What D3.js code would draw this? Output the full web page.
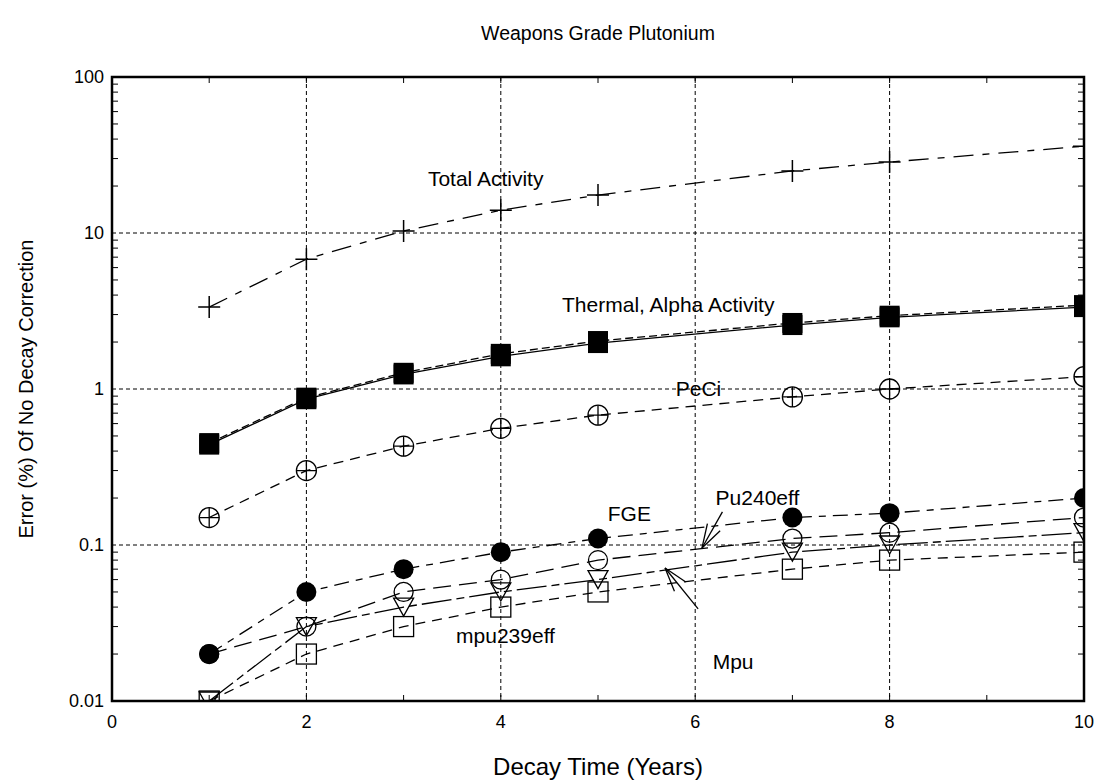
<!DOCTYPE html>
<html lang="en">
<head>
<meta charset="UTF-8">
<title>Weapons Grade Plutonium</title>
<style>
  body { margin: 0; background: #fff; }
  svg { font-family: "Liberation Sans", Arial, Helvetica, sans-serif; }
</style>
</head>
<body>
<div id="viz"></div>
<script src="https://d3js.org/d3.v7.min.js"></script>
<script>
  // decay times (years) and % error for each quantity
  const years = [1, 2, 3, 4, 5, 7, 8, 10]
  const totalActivity = [3.35, 6.8, 10.3, 14, 17.5, 25, 28.5, 36]
  const alphaActivity = [0.45, 0.88, 1.27, 1.68, 2.03, 2.65, 2.95, 3.45]
  const thermalActivity = [0.44, 0.86, 1.24, 1.62, 1.97, 2.57, 2.88, 3.35]
  const peci = [0.15, 0.30, 0.43, 0.56, 0.68, 0.89, 1.0, 1.2]
  const fge = [0.02, 0.05, 0.07, 0.09, 0.11, 0.15, 0.16, 0.20]
  const pu240eff = [0.02, 0.03, 0.05, 0.06, 0.08, 0.11, 0.12, 0.15]
  const mpu = [0.01, 0.03, 0.04, 0.05, 0.06, 0.09, 0.10, 0.12]
  const mpu239eff = [0.01, 0.02, 0.03, 0.04, 0.05, 0.07, 0.08, 0.09]

  const xTicks = [0, 2, 4, 6, 8, 10]
  const yTicks = [0.01, 0.1, 1, 10, 100]
  const yTickLabels = ["0.01", "0.1", "1", "10", "100"]

  const W = 1101, H = 781
  const margin = {top: 77, right: 17, bottom: 80, left: 112}
  const width = W - margin.left - margin.right
  const height = H - margin.top - margin.bottom

  const x = d3.scaleLinear().domain([0, 10]).range([0, width])
  const y = d3.scaleLog().domain([0.01, 100]).range([height, 0])

  const svg = d3.select("#viz").append("svg")
    .attr("width", W).attr("height", H)

  svg.append("defs").append("clipPath").attr("id", "clip")
    .append("rect").attr("width", width).attr("height", height)

  const g = svg.append("g")
    .attr("transform", "translate(" + margin.left + "," + margin.top + ")")

  // grid
  g.selectAll("line.gx").data([2, 4, 6, 8]).enter().append("line")
    .attr("x1", d => x(d)).attr("x2", d => x(d))
    .attr("y1", 0).attr("y2", height)
    .attr("stroke", "#000").attr("stroke-width", 1).attr("stroke-dasharray", "4,3")
  g.selectAll("line.gy").data([0.1, 1, 10]).enter().append("line")
    .attr("y1", d => y(d)).attr("y2", d => y(d))
    .attr("x1", 0).attr("x2", width)
    .attr("stroke", "#000").attr("stroke-width", 1).attr("stroke-dasharray", "4,3")

  // minor ticks
  const tickLen = 6
  d3.range(1, 10).forEach(v => {
    g.append("line").attr("x1", x(v)).attr("x2", x(v)).attr("y1", height).attr("y2", height - tickLen).attr("stroke", "#000")
    g.append("line").attr("x1", x(v)).attr("x2", x(v)).attr("y1", 0).attr("y2", tickLen).attr("stroke", "#000")
  })
  const yMinor = []
  ;[0.01, 0.1, 1, 10].forEach(d => { for (let k = 2; k <= 9; k++) yMinor.push(d * k) })
  yMinor.forEach(v => {
    g.append("line").attr("x1", 0).attr("x2", tickLen).attr("y1", y(v)).attr("y2", y(v)).attr("stroke", "#000")
    g.append("line").attr("x1", width).attr("x2", width - tickLen).attr("y1", y(v)).attr("y2", y(v)).attr("stroke", "#000")
  })

  // tick labels
  g.selectAll("text.xt").data(xTicks).enter().append("text")
    .attr("x", d => x(d)).attr("y", height + 27)
    .attr("text-anchor", "middle").attr("font-size", 18).text(d => d)
  g.selectAll("text.yt").data(yTicks).enter().append("text")
    .attr("x", -8).attr("y", d => y(d) + 6)
    .attr("text-anchor", "end").attr("font-size", 18).text((d, i) => yTickLabels[i])

  // series
  const series = [
    {values: totalActivity, dash: "20,9,7,9", marker: "plus"},
    {values: alphaActivity, dash: "8,4", marker: "fsquare"},
    {values: thermalActivity, dash: null, marker: "fsquare"},
    {values: peci, dash: "10,7", marker: "cplus"},
    {values: fge, dash: "15,7,7,7", marker: "fcircle"},
    {values: pu240eff, dash: "18,8", marker: "circle"},
    {values: mpu, dash: "30,5,8,5", marker: "tri"},
    {values: mpu239eff, dash: "10,7", marker: "square"}
  ]

  const plot = g.append("g").attr("clip-path", "url(#clip)")
  const line = d3.line().x(d => x(d[0])).y(d => y(d[1]))

  series.forEach(s => {
    plot.append("path")
      .datum(years.map((yr, i) => [yr, s.values[i]]))
      .attr("d", line)
      .attr("fill", "none").attr("stroke", "#000").attr("stroke-width", 1.3)
      .attr("stroke-dasharray", s.dash)
  })

  function drawMarker(sel, type) {
    if (type === "plus") {
      sel.append("path").attr("d", "M-11,0H11M0,-11V11").attr("stroke", "#000").attr("stroke-width", 1.5)
    } else if (type === "fsquare") {
      sel.append("rect").attr("x", -10).attr("y", -10).attr("width", 20).attr("height", 20).attr("fill", "#000")
    } else if (type === "square") {
      sel.append("rect").attr("x", -10).attr("y", -10).attr("width", 20).attr("height", 20)
        .attr("fill", "none").attr("stroke", "#000").attr("stroke-width", 1.3)
    } else if (type === "fcircle") {
      sel.append("circle").attr("r", 10).attr("fill", "#000")
    } else if (type === "circle") {
      sel.append("circle").attr("r", 9.5).attr("fill", "none").attr("stroke", "#000").attr("stroke-width", 1.3)
    } else if (type === "cplus") {
      sel.append("circle").attr("r", 10).attr("fill", "none").attr("stroke", "#000").attr("stroke-width", 1.3)
      sel.append("path").attr("d", "M-10,0H10M0,-10V10").attr("stroke", "#000").attr("stroke-width", 1.3)
    } else if (type === "tri") {
      sel.append("path").attr("d", "M-10,-9L10,-9L0,9Z").attr("fill", "none").attr("stroke", "#000").attr("stroke-width", 1.3)
    }
  }

  series.forEach(s => {
    years.forEach((yr, i) => {
      const m = plot.append("g").attr("transform", "translate(" + x(yr) + "," + y(s.values[i]) + ")")
      drawMarker(m, s.marker)
    })
  })

  // annotations (data coordinates)
  const labels = [
    {text: "Total Activity", at: [3.25, 20]},
    {text: "Thermal, Alpha Activity", at: [4.63, 3.1]},
    {text: "PeCi", at: [5.8, 0.9]},
    {text: "FGE", at: [5.1, 0.143]},
    {text: "Pu240eff", at: [6.21, 0.18]},
    {text: "mpu239eff", at: [3.54, 0.0235]},
    {text: "Mpu", at: [6.18, 0.016]}
  ]
  g.selectAll("text.lab").data(labels).enter().append("text")
    .attr("x", d => x(d.at[0])).attr("y", d => y(d.at[1]))
    .attr("font-size", 21).text(d => d.text)

  const arrows = [
    {from: [6.28, 0.163], to: [6.07, 0.0957]},
    {from: [6.03, 0.039], to: [5.69, 0.0712]}
  ]
  arrows.forEach(a => {
    const x0 = x(a.from[0]), y0 = y(a.from[1]), x1 = x(a.to[0]), y1 = y(a.to[1])
    const ang = Math.atan2(y0 - y1, x0 - x1)
    const len = 25, spread = 17 * Math.PI / 180
    g.append("line").attr("x1", x0).attr("y1", y0).attr("x2", x1).attr("y2", y1).attr("stroke", "#000").attr("stroke-width", 1.3)
    ;[-spread, spread].forEach(s => {
      g.append("line").attr("x1", x1).attr("y1", y1)
        .attr("x2", x1 + len * Math.cos(ang + s)).attr("y2", y1 + len * Math.sin(ang + s))
        .attr("stroke", "#000").attr("stroke-width", 1.3)
    })
  })

  // frame
  g.append("rect").attr("width", width).attr("height", height)
    .attr("fill", "none").attr("stroke", "#000").attr("stroke-width", 2.5)

  // titles
  svg.append("text").attr("x", margin.left + width / 2).attr("y", 40)
    .attr("text-anchor", "middle").attr("font-size", 19.5).text("Weapons Grade Plutonium")
  svg.append("text").attr("x", margin.left + width / 2).attr("y", 775)
    .attr("text-anchor", "middle").attr("font-size", 24).text("Decay Time (Years)")
  svg.append("text")
    .attr("transform", "translate(33," + (margin.top + height / 2) + ") rotate(-90)")
    .attr("text-anchor", "middle").attr("font-size", 20).text("Error (%) Of No Decay Correction")
</script>
</body>
</html>
